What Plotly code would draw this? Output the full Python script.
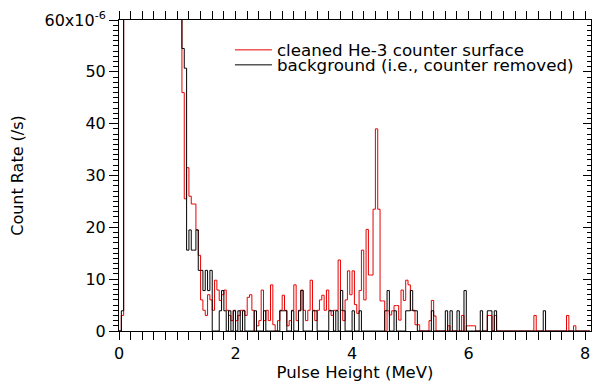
import plotly.graph_objects as go

# Pulse-height spectra, bin width 0.04 MeV, values in units of 1e-6 counts/s
# (bins 0.08-1.04 MeV are far above the plotted range)
bin_width = 0.04
red_rate = [
    0, 3, 500, 500, 500, 500, 500, 500, 500, 500,
    500, 500, 500, 500, 500, 500, 500, 500, 500, 500,
    500, 500, 500, 500, 500, 500, 75, 46, 25.5, 31.5,
    26, 24.5, 24.5, 19.5, 14.6, 6, 4, 3, 7, 6,
    4, 9.8, 7.9, 5.9, 7, 7.9, 4, 3, 2, 4,
    2, 3, 4, 4, 3, 6.5, 7, 4, 0, 1,
    2, 7.9, 2, 4, 2, 8.9, 1.2, 0, 2, 4,
    6.9, 4, 1, 2, 4, 8.9, 2, 4, 7.9, 4,
    2, 4, 9.8, 4, 2, 4, 6, 6.9, 4, 7.9,
    4, 3, 4, 4, 13.7, 4, 2, 6, 11.6, 7,
    11.6, 5.1, 3.4, 7.8, 15.6, 6, 19.6, 10.8, 10.8, 23.5,
    39, 23.5, 5.8, 5.8, 0, 3.9, 3.1, 3.9, 4.9, 4.9,
    2.1, 7.9, 5.9, 9.8, 8.9, 4, 4, 1.2, 1.2, 0,
    0, 0, 0, 2, 5.9, 2.9, 0, 0, 0, 0,
    0, 1, 0, 0, 0, 0, 0, 3, 0, 1,
    1, 1, 1, 0, 0, 0, 0, 0, 3, 3,
    0, 3, 0, 0, 0, 0, 0, 0, 0, 0,
    0, 0, 0, 0, 0, 0, 0, 0, 3, 0,
    0, 0, 0, 0, 0, 0, 0, 0, 0, 0,
    0, 0, 3, 0, 0, 1, 0, 0, 0, 0,
    0, 0,
]
black_rate = [
    0, 3.9, 500, 500, 500, 500, 500, 500, 500, 500,
    500, 500, 500, 500, 500, 500, 500, 500, 500, 500,
    500, 500, 500, 500, 500, 500, 75, 54.5, 50.7, 15.6,
    19.5, 15.6, 15.6, 19.5, 11.7, 11.7, 7.8, 11.7, 7.8, 11.7,
    0, 0, 0, 3.9, 7.8, 3.9, 0, 3.9, 0, 3.9,
    0, 3.9, 0, 3.9, 0, 0, 0, 0, 3.9, 0,
    0, 0, 3.9, 0, 0, 0, 0, 0, 0, 3.9,
    3.9, 3.9, 0, 0, 3.9, 0, 0, 3.9, 7.8, 0,
    0, 0, 0, 3.9, 3.9, 0, 0, 0, 0, 0,
    3.9, 3.9, 0, 3.9, 0, 7.8, 3.9, 0, 0, 0,
    3.9, 0, 0, 3.9, 0, 0, 0, 0, 0, 0,
    0, 0, 0, 0, 3.9, 7.8, 0, 0, 3.9, 0,
    0, 0, 0, 3.9, 3.9, 7.8, 3.9, 3.9, 0, 0,
    0, 0, 0, 0, 3.9, 0, 0, 0, 0, 0,
    3.9, 0, 3.9, 0, 0, 3.9, 0, 0, 7.8, 0,
    0, 0, 0, 0, 0, 3.9, 0, 0, 3.9, 3.9,
    0, 3.9, 0, 0, 0, 0, 0, 0, 0, 0,
    0, 0, 0, 0, 0, 0, 0, 0, 0, 0,
    0, 0, 3.9, 0, 0, 0, 0, 0, 0, 0,
    0, 0, 0, 0, 0, 0, 0, 0, 0, 0,
    0, 0,
]
x_tickvals = [0, 1, 2, 3, 4, 5, 6, 7, 8]
x_ticktext = ["0", "", "2", "", "4", "", "6", "", "8"]
y_tickvals = [0, 10, 20, 30, 40, 50, 60]
y_ticktext = ["0", "10", "20", "30", "40", "50", "60x10<sup>-6</sup>"]
red_name = "cleaned He-3 counter surface"
black_name = "background (i.e., counter removed)"

edges = [round(i * bin_width, 4) for i in range(len(red_rate) + 1)]

FONT = "DejaVu Sans"
fig = go.Figure()
fig.add_trace(go.Scatter(x=edges, y=red_rate + [red_rate[-1]], mode="lines",
                         line=dict(color="rgb(232,0,0)", width=1, shape="hv"),
                         name=red_name, legend="legend"))
fig.add_trace(go.Scatter(x=edges, y=black_rate + [black_rate[-1]], mode="lines",
                         line=dict(color="black", width=1, shape="hv"),
                         name=black_name, legend="legend2"))
fig.add_trace(go.Scatter(x=[None], y=[None], yaxis="y2", showlegend=False,
                         hoverinfo="skip"))

fig.update_layout(
    width=592, height=388,
    margin=dict(l=119, r=1, t=20, b=57),
    paper_bgcolor="white", plot_bgcolor="white",
    font=dict(family=FONT, size=16, color="black"),
    xaxis=dict(range=[0, 8.1], showgrid=False, zeroline=False,
               showline=True, linecolor="black", linewidth=1, mirror="allticks",
               ticks="outside", ticklen=8, tickcolor="black",
               tickmode="array", tickvals=x_tickvals, ticktext=x_ticktext,
               minor=dict(tickmode="linear", tick0=0, dtick=0.2, ticks="outside",
                          ticklen=4, tickcolor="black"),
               title=dict(text="Pulse Height (MeV)", standoff=1,
                          font=dict(size=16.5))),
    yaxis=dict(range=[0, 60], showgrid=False, zeroline=False,
               showline=True, linecolor="black", linewidth=1, mirror=True,
               ticks="outside", ticklen=9, tickcolor="black",
               tickmode="array", tickvals=y_tickvals, ticktext=y_ticktext,
               minor=dict(tickmode="linear", tick0=0, dtick=1, ticks="outside",
                          ticklen=5, tickcolor="black"),
               title=dict(text="Count Rate (/s)", standoff=16,
                          font=dict(size=16))),
    yaxis2=dict(range=[0, 60], overlaying="y", side="right", showgrid=False,
                zeroline=False, showline=True, linecolor="black",
                ticks="inside", ticklen=8, tickcolor="black",
                tickmode="array", tickvals=y_tickvals, showticklabels=False,
                minor=dict(tickmode="linear", tick0=0, dtick=1, ticks="inside",
                           ticklen=4, tickcolor="black")),
    legend=dict(x=0.235, y=0.9035, xanchor="left", yanchor="middle",
                bgcolor="rgba(0,0,0,0)", itemwidth=37,
                font=dict(size=16.7)),
    legend2=dict(x=0.235, y=0.8553, xanchor="left", yanchor="middle",
                 bgcolor="rgba(0,0,0,0)", itemwidth=37,
                 font=dict(size=16.7)),
)

fig.write_html("out.html")
